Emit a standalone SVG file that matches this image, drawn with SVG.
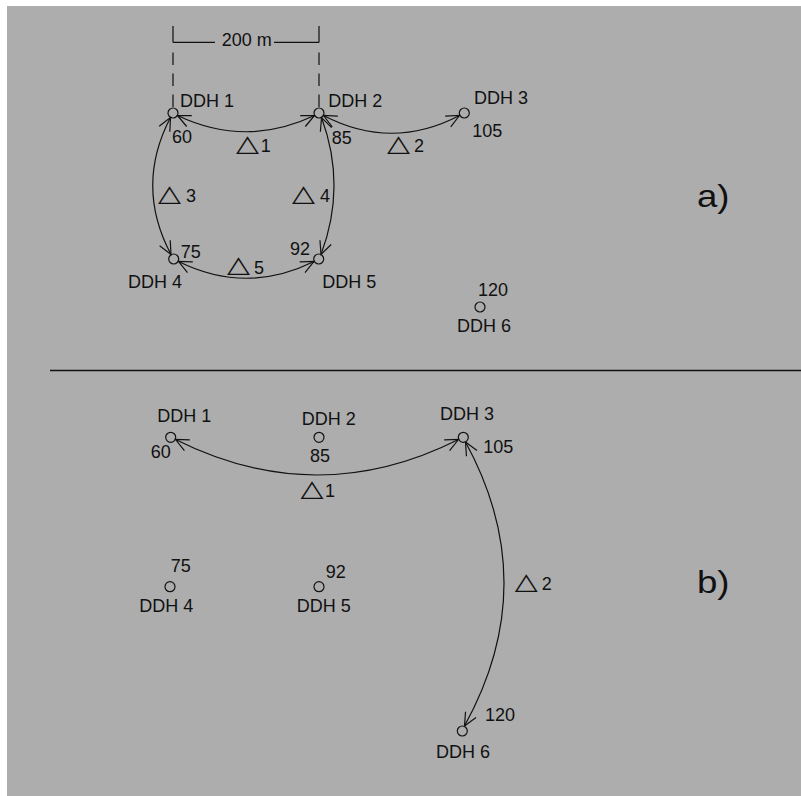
<svg xmlns="http://www.w3.org/2000/svg" width="801" height="796" viewBox="0 0 801 796">
  <defs>
    <style>
      .bg { fill: #adadad; }
      .ln { fill: none; stroke: #111; stroke-width: 1.2; }
      .arc { fill: none; stroke: #111; stroke-width: 1.2; marker-start: url(#vhead); marker-end: url(#vhead); }
      .hole { fill: none; stroke: #111; stroke-width: 1.2; }
      text { font-family: "Liberation Sans", Arial, sans-serif; font-size: 18px; fill: #111; }
      .tri { font-family: "DejaVu Sans", sans-serif; font-size: 23px; }
      .part { font-size: 31px; }
    </style>
    <marker id="vhead" markerUnits="userSpaceOnUse" markerWidth="30" markerHeight="30" viewBox="-15 -15 30 30" refX="0" refY="0" orient="auto-start-reverse" overflow="visible">
      <path d="M-13,-6 L0,0 L-13,6" fill="none" stroke="#111" stroke-width="1.2"/>
    </marker>
  </defs>

  <rect class="bg" x="7" y="6" width="794" height="790"/>

  <!-- panel separator -->
  <line x1="50" y1="370.5" x2="801" y2="370.5" stroke="#111" stroke-width="1.6"/>

  <!-- spacing dimension: 200 m -->
  <g id="dimension">
    <path class="ln" d="M173,26 V42.5 M319,26 V42.5 M173,42.3 H215 M274,42.3 H319"/>
    <path class="ln" stroke-dasharray="12.5 8.5" d="M173,52.5 V107 M319,52.5 V107"/>
    <text x="221.7" y="45.7">200 m</text>
  </g>

  <!-- connectors -->
  <g id="connectors">
    <!-- a) -->
    <path class="arc" d="M177.5,115.5 Q246,148 314.5,115.5"/>
    <path class="arc" d="M323.5,115.5 Q391.5,151 459.5,115.5"/>
    <path class="arc" d="M170.5,117.5 Q134.7,186 171,254.5"/>
    <path class="arc" d="M321.5,117.5 Q346.8,186 321,254.5"/>
    <path class="arc" d="M178.5,261.5 Q246.3,295 314,261.5"/>
    <!-- b) -->
    <path class="arc" d="M175.5,439.5 Q317,510.5 458.5,439.5"/>
    <path class="arc" d="M465.5,442 Q543,584 464.5,726"/>
  </g>

  <!-- a) drill holes -->
  <g id="a-ddh1">
    <circle class="hole" cx="173" cy="113" r="5"/>
    <text x="180" y="106.7">DDH 1</text>
    <text x="172" y="143.3">60</text>
  </g>
  <g id="a-ddh2">
    <circle class="hole" cx="319" cy="113" r="5"/>
    <text x="328.3" y="107.3">DDH 2</text>
    <text x="331.7" y="144.3">85</text>
  </g>
  <g id="a-ddh3">
    <circle class="hole" cx="464.3" cy="113" r="5"/>
    <text x="474" y="104">DDH 3</text>
    <text x="472.3" y="137.3">105</text>
  </g>
  <g id="a-ddh4">
    <circle class="hole" cx="173.7" cy="259" r="5"/>
    <text x="128" y="287.7">DDH 4</text>
    <text x="180.7" y="258.3">75</text>
  </g>
  <g id="a-ddh5">
    <circle class="hole" cx="318.7" cy="259" r="5"/>
    <text x="322.3" y="288">DDH 5</text>
    <text x="290" y="255">92</text>
  </g>
  <g id="a-ddh6">
    <circle class="hole" cx="480" cy="307" r="5"/>
    <text x="478" y="296">120</text>
    <text x="457" y="332">DDH 6</text>
  </g>

  <!-- a) interval labels -->
  <g id="a-deltas">
    <text class="tri" transform="translate(236,150.7) scale(1.3,1)">△</text>
    <text x="260.7" y="151.7">1</text>
    <text class="tri" transform="translate(387,150.7) scale(1.3,1)">△</text>
    <text x="414" y="151.7">2</text>
    <text class="tri" transform="translate(158,201.3) scale(1.3,1)">△</text>
    <text x="186" y="202.3">3</text>
    <text class="tri" transform="translate(292,201.3) scale(1.3,1)">△</text>
    <text x="320" y="202.3">4</text>
    <text class="tri" transform="translate(227,272.3) scale(1.3,1)">△</text>
    <text x="254" y="274.3">5</text>
  </g>

  <text class="part" transform="translate(697,207) scale(1.18,1)">a)</text>

  <!-- b) drill holes -->
  <g id="b-ddh1">
    <circle class="hole" cx="170.7" cy="437.3" r="5"/>
    <text x="157.3" y="422.3">DDH 1</text>
    <text x="150.7" y="457.7">60</text>
  </g>
  <g id="b-ddh2">
    <circle class="hole" cx="319" cy="437.3" r="5"/>
    <text x="301.7" y="425">DDH 2</text>
    <text x="310" y="461.7">85</text>
  </g>
  <g id="b-ddh3">
    <circle class="hole" cx="463.3" cy="437.3" r="5"/>
    <text x="440" y="420">DDH 3</text>
    <text x="483.3" y="453.3">105</text>
  </g>
  <g id="b-ddh4">
    <circle class="hole" cx="170" cy="586.7" r="5"/>
    <text x="139.3" y="612.3">DDH 4</text>
    <text x="170.7" y="572.3">75</text>
  </g>
  <g id="b-ddh5">
    <circle class="hole" cx="319" cy="586.7" r="5"/>
    <text x="296.7" y="612.3">DDH 5</text>
    <text x="325.7" y="577.7">92</text>
  </g>
  <g id="b-ddh6">
    <circle class="hole" cx="462.3" cy="731" r="5"/>
    <text x="485" y="721">120</text>
    <text x="436" y="758">DDH 6</text>
  </g>

  <!-- b) interval labels -->
  <g id="b-deltas">
    <text class="tri" transform="translate(300.4,496.3) scale(1.3,1)">△</text>
    <text x="325" y="497.3">1</text>
    <text class="tri" transform="translate(514.7,589) scale(1.3,1)">△</text>
    <text x="541.7" y="590">2</text>
  </g>

  <text class="part" transform="translate(697,593) scale(1.18,1)">b)</text>
</svg>
